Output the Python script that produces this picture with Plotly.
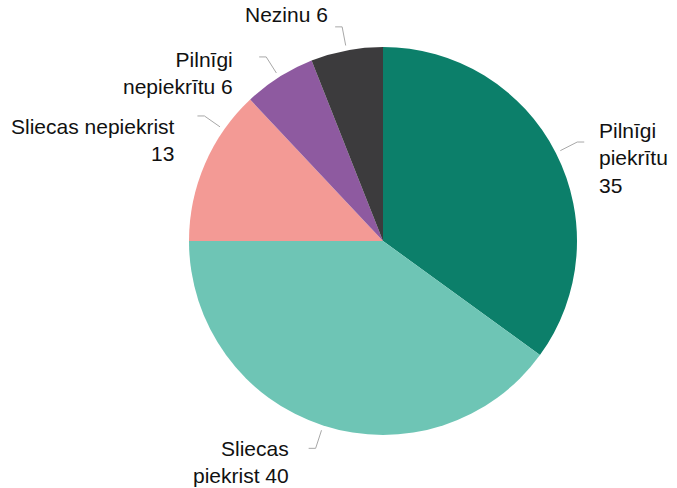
import math
import plotly.graph_objects as go

labels = ["Pilnīgi piekrītu", "Sliecas piekrist", "Sliecas nepiekrist", "Pilnīgi nepiekrītu", "Nezinu"]
values = [35, 40, 13, 6, 6]
label_texts = ["Pilnīgi<br>piekrītu<br>35", "Sliecas<br>piekrist 40", "Sliecas nepiekrist<br>13",
               "Pilnīgi<br>nepiekrītu 6", "Nezinu 6"]
colors = ["#0c7f6a", "#6ec5b5", "#f39a95", "#8e5aa0", "#3c3b3d"]

W, H = 677, 488
CX, CY, R = 383, 241, 194

# layout tweaks for labels (angle shift in degrees, text offset in px from leader end)
angle_shift = [0, 0, 11.6, 0, 0]
text_offset = [(13, 16), (-18, 14), (-20, 24), (-24, 16), (-5, -12)]

fig = go.Figure(go.Pie(
    labels=labels, values=values, sort=False, direction="clockwise", rotation=0,
    marker=dict(colors=colors, line=dict(width=0)),
    textinfo="none", hoverinfo="label+value", showlegend=False,
    domain=dict(x=[(CX - R) / W, (CX + R) / W], y=[1 - (CY + R) / H, 1 - (CY - R) / H]),
))

def px(x, y):
    return x / W, 1 - y / H

total = sum(values)
cum = 0
shapes, annotations = [], []
for i, v in enumerate(values):
    mid = (cum + v / 2) / total * 360 + angle_shift[i]
    cum += v
    a = math.radians(mid)
    s, c = math.sin(a), math.cos(a)
    x0, y0 = CX + (R + 5) * s, CY - (R + 5) * c
    x1, y1 = CX + (R + 24) * s, CY - (R + 24) * c
    side = 1 if s >= 0 else -1
    x2, y2 = x1 + 7 * side, y1
    p0, p1, p2 = px(x0, y0), px(x1, y1), px(x2, y2)
    shapes.append(dict(type="path", xref="paper", yref="paper",
                       path=f"M {p0[0]} {p0[1]} L {p1[0]} {p1[1]} L {p2[0]} {p2[1]}",
                       line=dict(color="#a8a8a8", width=1)))
    tx, ty = px(x2 + text_offset[i][0], y2 + text_offset[i][1])
    annotations.append(dict(x=tx, y=ty, xref="paper", yref="paper", text=label_texts[i],
                            showarrow=False, xanchor="left" if side > 0 else "right",
                            yanchor="middle", align="left" if side > 0 else "right",
                            font=dict(family="Liberation Sans, Arial, sans-serif", size=21, color="#111111")))

fig.update_layout(width=W, height=H, margin=dict(l=0, r=0, t=0, b=0),
                  paper_bgcolor="white", plot_bgcolor="white",
                  shapes=shapes, annotations=annotations)
fig.write_html("out.html", config={"displayModeBar": False},
               post_script="document.body.style.margin='0';document.body.style.overflow='hidden';")
